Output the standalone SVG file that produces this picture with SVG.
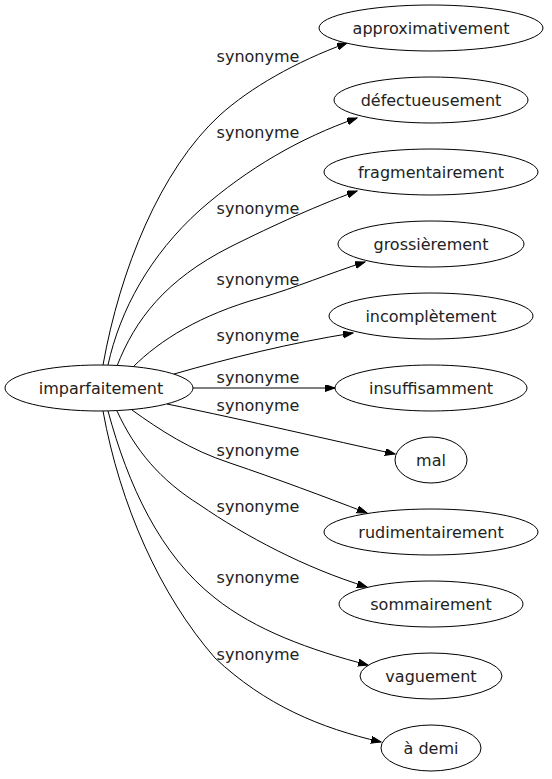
<svg xmlns="http://www.w3.org/2000/svg" width="552" height="779" viewBox="0 0 552 779">
<style>
.n ellipse{fill:#fff;stroke:#000;stroke-width:1}
text{font-family:"DejaVu Sans",sans-serif;font-size:16px;fill:#222;text-anchor:middle}
.e path{fill:none;stroke:#000;stroke-width:1;marker-end:url(#ah)}
</style>
<defs>
<marker id="ah" markerUnits="userSpaceOnUse" markerWidth="11" markerHeight="8" refX="10" refY="3.5" orient="auto">
<path d="M0,0 L10,3.5 L0,7 z" fill="#000" stroke="#000" stroke-width="1"/>
</marker>
</defs>
<rect width="552" height="779" fill="#fff"/>
<g id="edges" class="e">
<path d="M103,365 C120,270 160,170 220,115 C250,88 295,62 347,43"/>
<path d="M108,365 C120,310 150,255 200,210 C248,168 300,138 357,118"/>
<path d="M117,366 C135,320 165,280 230,247 C260,232 310,208 357,191"/>
<path d="M133,367 C160,340 200,315 260,298 C295,288 330,273 365,262"/>
<path d="M174,374 C230,358 290,343 353,333"/>
<path d="M193,388 L335,388"/>
<path d="M167,404 C250,421 330,440 395,454"/>
<path d="M132,410 C160,430 190,450 230,463 C280,480 320,495 367,513"/>
<path d="M117,411 C135,450 160,480 200,505 C245,536 305,568 367,587"/>
<path d="M108,411 C128,485 160,555 215,598 C255,630 310,650 368,665"/>
<path d="M103,411 C120,505 160,595 215,658 C265,705 320,728 381,742"/>
<g id="labels">
<text x="258" y="62">synonyme</text>
<text x="258" y="138">synonyme</text>
<text x="258" y="214">synonyme</text>
<text x="258" y="285">synonyme</text>
<text x="258" y="341">synonyme</text>
<text x="258" y="383">synonyme</text>
<text x="258" y="411">synonyme</text>
<text x="258" y="456">synonyme</text>
<text x="258" y="512">synonyme</text>
<text x="258" y="583">synonyme</text>
<text x="258" y="660">synonyme</text>
</g>
</g>
<g id="imparfaitement" class="n"><ellipse cx="99" cy="388" rx="94" ry="23"/><text x="101" y="394">imparfaitement</text></g>
<g id="approximativement" class="n"><ellipse cx="431" cy="28" rx="112" ry="23"/><text x="431" y="34">approximativement</text></g>
<g id="defectueusement" class="n"><ellipse cx="431" cy="100" rx="97" ry="23"/><text x="431" y="106">défectueusement</text></g>
<g id="fragmentairement" class="n"><ellipse cx="431" cy="172" rx="107" ry="23"/><text x="431" y="178">fragmentairement</text></g>
<g id="grossierement" class="n"><ellipse cx="431" cy="244" rx="93" ry="23"/><text x="431" y="250">grossièrement</text></g>
<g id="incompletement" class="n"><ellipse cx="431" cy="316" rx="102" ry="23"/><text x="431" y="322">incomplètement</text></g>
<g id="insuffisamment" class="n"><ellipse cx="431" cy="388" rx="96" ry="23"/><text x="431" y="394">insuffisamment</text></g>
<g id="mal" class="n"><ellipse cx="431" cy="460" rx="36" ry="23"/><text x="431" y="466">mal</text></g>
<g id="rudimentairement" class="n"><ellipse cx="431" cy="532" rx="107" ry="23"/><text x="431" y="538">rudimentairement</text></g>
<g id="sommairement" class="n"><ellipse cx="431" cy="604" rx="92" ry="23"/><text x="431" y="610">sommairement</text></g>
<g id="vaguement" class="n"><ellipse cx="431" cy="676" rx="71" ry="23"/><text x="431" y="682">vaguement</text></g>
<g id="a_demi" class="n"><ellipse cx="431" cy="748" rx="50" ry="23"/><text x="431" y="754">à demi</text></g>
</svg>
